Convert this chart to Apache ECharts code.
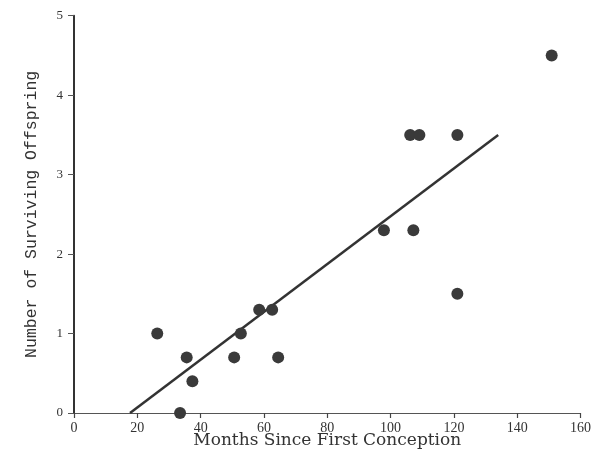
<!DOCTYPE html>
<html>
<head>
<meta charset="utf-8">
<script src="https://cdn.jsdelivr.net/npm/echarts@6/dist/echarts.min.js"></script>
<style>
html,body{margin:0;padding:0;background:#fff;}
#chart{width:594px;height:456px;}
</style>
</head>
<body>
<div id="chart"></div>
<script>
// Data
var monthsSinceFirstConception = [26.3, 35.6, 37.4, 33.5, 50.6, 52.7, 58.5, 62.6, 64.5, 97.9, 107.2, 106.2, 109.1, 121.1, 121.1, 150.9];
var survivingOffspring        = [1.0, 0.7, 0.4, 0.0, 0.7, 1.0, 1.3, 1.3, 0.7, 2.3, 2.3, 3.5, 3.5, 3.5, 1.5, 4.5];
// Fitted line end points
var fitX = [17.7, 134];
var fitY = [0, 3.5];
var xTicks = [0, 20, 40, 60, 80, 100, 120, 140, 160];
var yTicks = [0, 1, 2, 3, 4, 5];

var points = monthsSinceFirstConception.map(function (m, i) { return [m, survivingOffspring[i]]; });
var fitLine = fitX.map(function (x, i) { return [x, fitY[i]]; });

var chart = echarts.init(document.getElementById('chart'));
chart.setOption({
  animation: false,
  backgroundColor: '#ffffff',
  grid: { left: 74, right: 13.5, top: 15.7, bottom: 43, containLabel: false, outerBoundsMode: 'none' },
  xAxis: {
    type: 'value',
    min: xTicks[0], max: xTicks[xTicks.length - 1], interval: 20,
    name: 'Months Since First Conception',
    nameLocation: 'middle',
    nameGap: 19,
    nameMoveOverlap: false,
    nameTextStyle: { fontFamily: 'DejaVu Serif', fontSize: 17, color: '#333' },
    axisLine: { show: true, onZero: false, lineStyle: { color: '#555', width: 1 } },
    axisTick: { show: true, inside: false, length: 5, lineStyle: { color: '#444', width: 1.2 } },
    axisLabel: { fontFamily: 'Liberation Serif', fontSize: 14, color: '#333', margin: 8 },
    splitLine: { show: false }
  },
  yAxis: {
    type: 'value',
    min: yTicks[0], max: yTicks[yTicks.length - 1], interval: 1,
    name: 'Number of Surviving Offspring',
    nameLocation: 'middle',
    nameGap: 34,
    nameMoveOverlap: false,
    nameTextStyle: { fontFamily: 'Liberation Mono', fontSize: 16.5, color: '#333' },
    axisLine: { show: true, onZero: false, lineStyle: { color: '#333', width: 2 } },
    axisTick: { show: true, inside: false, length: 6, lineStyle: { color: '#555', width: 1 } },
    axisLabel: { fontFamily: 'Liberation Serif', fontSize: 13, color: '#333', margin: 11 },
    splitLine: { show: false }
  },
  series: [
    {
      type: 'line',
      data: fitLine,
      symbol: 'none',
      lineStyle: { color: '#333', width: 2.5 },
      silent: true,
      z: 2
    },
    {
      type: 'scatter',
      data: points,
      symbol: 'circle',
      symbolSize: 12,
      itemStyle: { color: '#3a3a3a', opacity: 1 },
      z: 3
    }
  ]
});
</script>
</body>
</html>
